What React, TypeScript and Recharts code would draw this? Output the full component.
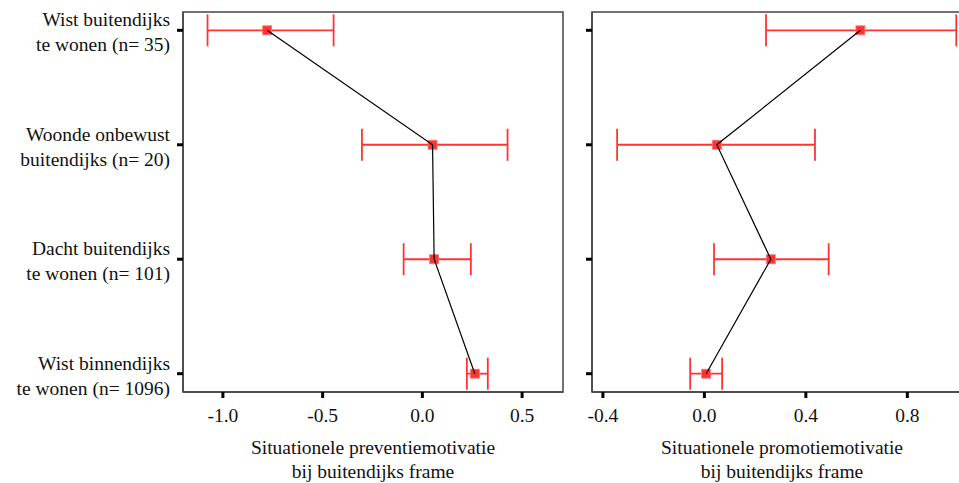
import { ErrorBar, ReferenceArea, Scatter, ScatterChart, XAxis, YAxis } from "recharts";

const groups = [
  ["Wist buitendijks", "te wonen (n= 35)"],
  ["Woonde onbewust", "buitendijks (n= 20)"],
  ["Dacht buitendijks", "te wonen (n= 101)"],
  ["Wist binnendijks", "te wonen (n= 1096)"],
];

const preventionMean = [-0.778, 0.051, 0.059, 0.263];
const preventionLow = [-1.077, -0.303, -0.094, 0.223];
const preventionHigh = [-0.445, 0.427, 0.243, 0.328];

const promotionMean = [0.615, 0.049, 0.262, 0.007];
const promotionLow = [0.243, -0.344, 0.038, -0.056];
const promotionHigh = [0.993, 0.436, 0.49, 0.07];

const preventionTicks = [-1.0, -0.5, 0.0, 0.5];
const promotionTicks = [-0.4, 0.0, 0.4, 0.8];

const preventionTitle = ["Situationele preventiemotivatie", "bij buitendijks frame"];
const promotionTitle = ["Situationele promotiemotivatie", "bij buitendijks frame"];

const FONT = "'Liberation Serif', 'Times New Roman', serif";
const RED = "#ff3333";
const Y_DOMAIN = [-0.16, 3.16];

const toRows = (mean: number[], low: number[], high: number[]) =>
  mean.map((m, i) => ({ pos: i, mean: m, err: [m - low[i], high[i] - m] }));

const GroupTick = (props: any) => {
  const { x, y, payload } = props;
  const lines = groups[payload.value] ?? [];
  return (
    <text textAnchor="end" fontFamily={FONT} fontSize={19.5} fill="#111">
      <tspan x={x} y={y - 4}>{lines[0]}</tspan>
      <tspan x={x} y={y + 21}>{lines[1]}</tspan>
    </text>
  );
};

const AxisTitle = ({ viewBox, lines }: any) => {
  const cx = viewBox.x + viewBox.width / 2;
  return (
    <text textAnchor="middle" fontFamily={FONT} fontSize={19.5} fill="#111">
      <tspan x={cx} y={viewBox.y + 62}>{lines[0]}</tspan>
      <tspan x={cx} y={viewBox.y + 86}>{lines[1]}</tspan>
    </text>
  );
};

// filled square marker, a bit larger than recharts' default symbol
const Marker = (props: any) => {
  const { cx, cy } = props;
  if (cx == null || cy == null) return <g />;
  return (
    <rect
      x={cx - 4.5}
      y={cy - 4.5}
      width={9}
      height={9}
      fill={RED}
      stroke="#ff7777"
      strokeWidth={0.8}
    />
  );
};

function Panel({ rows, ticks, domain, title, showLabels, width, yWidth, right }: any) {
  return (
    <ScatterChart
      width={width}
      height={483}
      margin={{ top: 12, right, bottom: 0, left: 0 }}
    >
      <ReferenceArea
        x1={domain[0]}
        x2={domain[1]}
        y1={Y_DOMAIN[0]}
        y2={Y_DOMAIN[1]}
        fill="none"
        stroke="#444"
        strokeWidth={1.5}
        ifOverflow="visible"
      />
      <XAxis
        type="number"
        dataKey="mean"
        domain={domain}
        allowDataOverflow
        ticks={ticks}
        tickFormatter={(v: number) => v.toFixed(1)}
        height={91}
        tickSize={6}
        tickMargin={10}
        axisLine={{ stroke: "#444", strokeWidth: 1.5 }}
        tickLine={{ stroke: "#000", strokeWidth: 3 }}
        tick={{ fontFamily: FONT, fontSize: 19.5, fill: "#111" }}
        label={{ content: (p: any) => <AxisTitle viewBox={p.viewBox} lines={title} /> }}
      />
      <YAxis
        type="number"
        dataKey="pos"
        domain={Y_DOMAIN}
        allowDataOverflow
        reversed
        ticks={[0, 1, 2, 3]}
        width={yWidth}
        tickSize={6}
        tickMargin={7}
        axisLine={{ stroke: "#444", strokeWidth: 1.5 }}
        tickLine={{ stroke: "#000", strokeWidth: 3 }}
        tick={showLabels ? <GroupTick /> : () => <g />}
      />
      <Scatter data={rows} fill={RED} shape={<Marker />} isAnimationActive={false}>
        <ErrorBar
          dataKey="err"
          direction="x"
          width={16}
          stroke={RED}
          strokeWidth={1.8}
          isAnimationActive={false}
        />
      </Scatter>
      <Scatter
        data={rows}
        line={{ stroke: "#000", strokeWidth: 1.2 }}
        shape={() => <g />}
        isAnimationActive={false}
      />
    </ScatterChart>
  );
}

export default function App() {
  return (
    <div
      style={{
        position: "fixed",
        left: 0,
        top: 0,
        width: 959,
        height: 483,
        overflow: "hidden",
        background: "#fff",
      }}
    >
      <div style={{ position: "absolute", left: 0, top: 0 }}>
        <Panel
          rows={toRows(preventionMean, preventionLow, preventionHigh)}
          ticks={preventionTicks}
          domain={[-1.2, 0.705]}
          title={preventionTitle}
          showLabels
          width={575}
          yWidth={183}
          right={12}
        />
      </div>
      <div style={{ position: "absolute", left: 575, top: 0 }}>
        <Panel
          rows={toRows(promotionMean, promotionLow, promotionHigh)}
          ticks={promotionTicks}
          domain={[-0.443, 1.055]}
          title={promotionTitle}
          showLabels={false}
          width={410}
          yWidth={17}
          right={13}
        />
      </div>
    </div>
  );
}
